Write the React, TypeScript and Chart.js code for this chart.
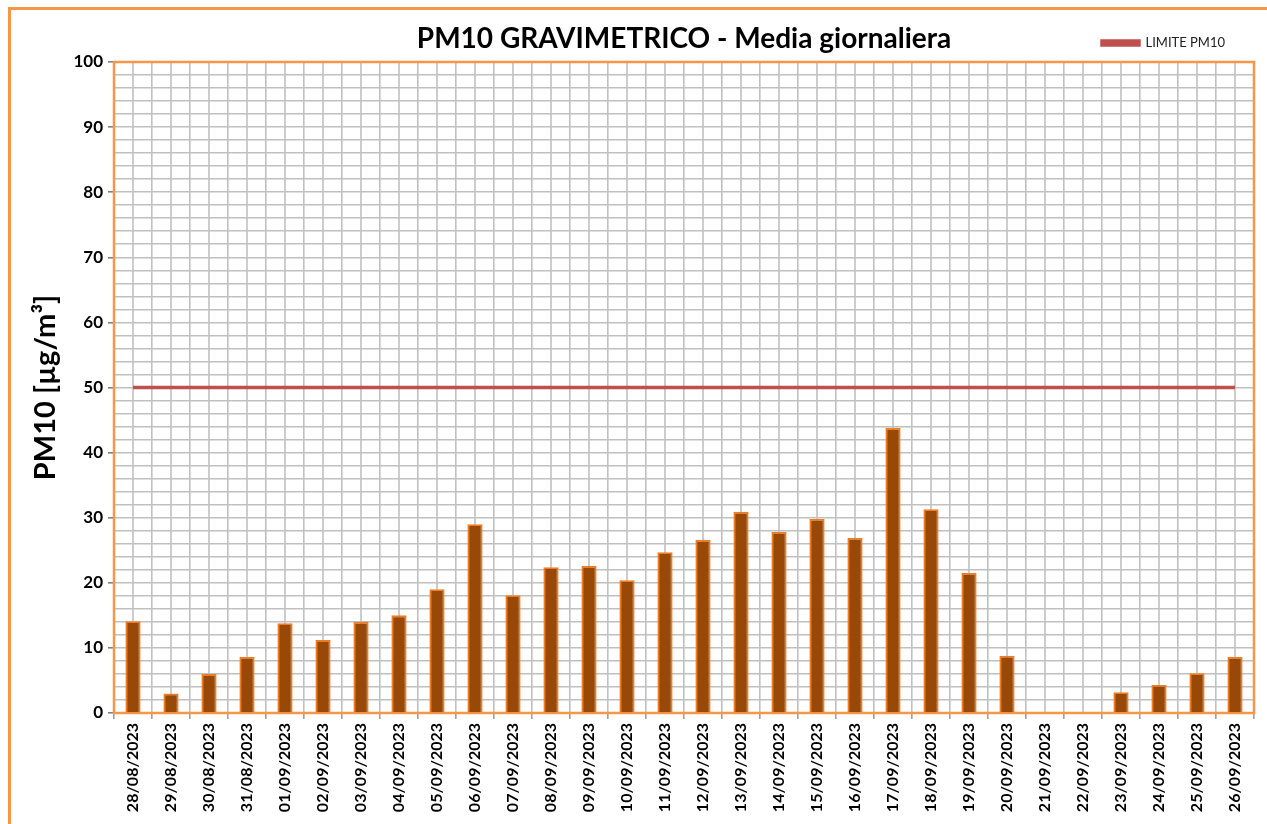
import React, { useEffect, useRef } from "react";
import { Chart, registerables } from "chart.js";

Chart.register(...registerables);

const categories = [
  "28/08/2023", "29/08/2023", "30/08/2023", "31/08/2023", "01/09/2023", "02/09/2023",
  "03/09/2023", "04/09/2023", "05/09/2023", "06/09/2023", "07/09/2023", "08/09/2023",
  "09/09/2023", "10/09/2023", "11/09/2023", "12/09/2023", "13/09/2023", "14/09/2023",
  "15/09/2023", "16/09/2023", "17/09/2023", "18/09/2023", "19/09/2023", "20/09/2023",
  "21/09/2023", "22/09/2023", "23/09/2023", "24/09/2023", "25/09/2023", "26/09/2023",
];

const pm10Values: (number | null)[] = [
  14.1, 3.0, 6.0, 8.6, 13.8, 11.2, 14.0, 15.0, 19.0, 29.0, 18.1, 22.4, 22.6, 20.4, 24.7,
  26.6, 30.9, 27.8, 29.8, 26.9, 43.8, 31.3, 21.5, 8.8, null, null, 3.2, 4.3, 6.1, 8.6,
];

const limitValues = [
  50, 50, 50, 50, 50, 50, 50, 50, 50, 50, 50, 50, 50, 50, 50,
  50, 50, 50, 50, 50, 50, 50, 50, 50, 50, 50, 50, 50, 50, 50,
];

const yTicks = [0, 10, 20, 30, 40, 50, 60, 70, 80, 90, 100];

const FONT = "Lato, 'Open Sans', sans-serif";
const ORANGE = "#F79646";
const GRID = "#C0C0C0";

const framePlugin = {
  id: "frame",
  beforeDatasetsDraw(chart: any) {
    const { ctx, chartArea } = chart;
    const xs = chart.scales.x;
    ctx.save();
    ctx.strokeStyle = GRID;
    ctx.lineWidth = 1.6;
    for (let i = 0; i < categories.length; i++) {
      const x = xs.getPixelForValue(i);
      ctx.beginPath();
      ctx.moveTo(x, chartArea.top);
      ctx.lineTo(x, chartArea.bottom);
      ctx.stroke();
    }
    ctx.strokeStyle = ORANGE;
    ctx.lineWidth = 2.5;
    ctx.strokeRect(chartArea.left, chartArea.top, chartArea.right - chartArea.left, chartArea.bottom - chartArea.top);
    ctx.restore();
  },
  afterDraw(chart: any) {
    const { ctx } = chart;
    ctx.save();
    ctx.strokeStyle = ORANGE;
    ctx.lineWidth = 3;
    ctx.beginPath();
    ctx.moveTo(9.5, chart.height + 10);
    ctx.lineTo(9.5, 8.5);
    ctx.lineTo(chart.width + 10, 8.5);
    ctx.stroke();
    ctx.restore();
  },
};

export default function App() {
  const ref = useRef<HTMLCanvasElement | null>(null);
  useEffect(() => {
    if (!ref.current) return;
    const chart = new Chart(ref.current, {
      type: "bar",
      data: {
        labels: categories,
        datasets: [
          {
            type: "line",
            label: "LIMITE PM10",
            data: limitValues,
            borderColor: "#C0504D",
            backgroundColor: "#C0504D",
            borderWidth: 3.5,
            pointRadius: 0,
            order: 0,
          } as any,
          {
            type: "bar",
            label: "PM10",
            data: pm10Values,
            backgroundColor: "#984807",
            borderColor: "#F07C22",
            borderWidth: 1.8,
            barPercentage: 0.4,
            categoryPercentage: 1,
            order: 1,
          } as any,
        ],
      },
      options: {
        animation: false,
        responsive: false,
        maintainAspectRatio: false,
        layout: { padding: { left: 20, right: 13, top: 7.5, bottom: 0 } },
        plugins: {
          title: {
            display: true,
            weight: 500,
            fullSize: false,
            text: "PM10 GRAVIMETRICO - Media giornaliera",
            color: "#000",
            font: { family: FONT, size: 28, weight: "bold" },
            padding: { top: -37.3, bottom: 6.2 },
          } as any,
          legend: {
            display: true,
            position: "top",
            align: "end",
            weight: 1000,
            labels: {
              filter: (item: any) => item.text === "LIMITE PM10",
              boxWidth: 37,
              boxHeight: 4,
              padding: 29,
              color: "#222",
              font: { family: FONT, size: 13 },
            },
          } as any,
          tooltip: { enabled: false },
        },
        scales: {
          x: {
            offset: true,
            grid: {
              offset: true,
              color: GRID,
              lineWidth: 1.6,
              drawTicks: true,
              tickLength: 6,
              tickColor: "#A0A0A0",
            },
            border: { color: ORANGE, width: 2 },
            ticks: {
              autoSkip: false,
              minRotation: 90,
              maxRotation: 90,
              padding: 4,
              color: "#000",
              font: { family: FONT, size: 16, weight: "bold" },
            },
            afterFit: (s: any) => {
              s.height = 111;
            },
          },
          y: {
            min: 0,
            max: 100,
            grid: {
              color: GRID,
              lineWidth: 1.6,
              drawTicks: true,
              tickLength: 6,
              tickColor: (c: any) => (yTicks.includes(c.tick?.value) ? "#808080" : "rgba(0,0,0,0)"),
            },
            border: { color: ORANGE, width: 2 },
            ticks: {
              stepSize: 2,
              autoSkip: false,
              padding: 5,
              color: "#000",
              font: { family: FONT, size: 17, weight: "bold" },
              callback: (v: any) => (yTicks.includes(Number(v)) ? String(v) : ""),
            },
            title: {
              display: true,
              text: "PM10 [µg/m³]",
              color: "#000",
              font: { family: FONT, size: 29, weight: "bold" },
              padding: { top: 8, bottom: 0 },
            },
            afterFit: (s: any) => {
              s.width = 94;
            },
          },
        },
      },
      plugins: [framePlugin],
    });
    return () => chart.destroy();
  }, []);
  return (
    <div style={{ position: "absolute", left: 0, top: 0, width: 1267, height: 824, background: "#fff" }}>
      <canvas ref={ref} width={1267} height={824} style={{ display: "block" }} />
    </div>
  );
}
